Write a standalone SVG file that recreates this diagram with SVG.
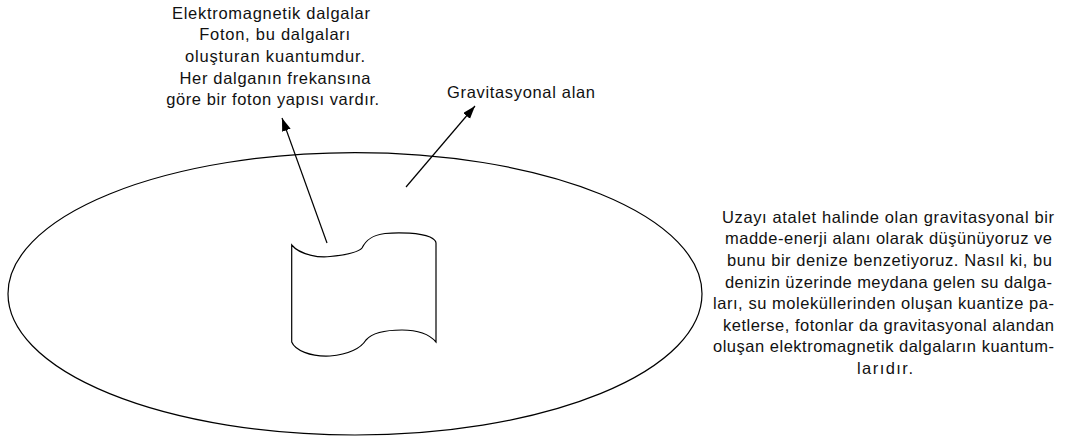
<svg xmlns="http://www.w3.org/2000/svg" width="1068" height="439" viewBox="0 0 1068 439">
<style>
.ln{fill:none;stroke:#000;stroke-width:1.2}
.t{font-family:"Liberation Sans",Arial,sans-serif;font-size:16.5px;fill:#111}
</style>
<defs>
<marker id="ah" markerUnits="userSpaceOnUse" markerWidth="14" markerHeight="10" refX="13" refY="4.5" orient="auto">
<path d="M0,0 L13,4.5 L0,9 z" fill="#000"/>
</marker>
</defs>
<rect width="1068" height="439" fill="#fff"/>
<g id="field">
<ellipse class="ln" cx="355" cy="293.8" rx="347" ry="141.2"/>
</g>
<g id="photon">
<path class="ln" d="M291.7,245 C300,255 320,258 330,256.5 C345,255 358,253 362,248 C366,240 372,235 385,233.5 C400,232 420,233 430,237 C434,239 436,241 436,243 L436,342 C430,335 420,330 402,330 C385,330 372,333 366,340 C361,348 350,354 330,356 C310,357 295,350 291.7,342 Z"/>
</g>
<g id="connectors">
<line class="ln" x1="327" y1="243" x2="282" y2="118" marker-end="url(#ah)"/>
<line class="ln" x1="406" y1="187" x2="475" y2="106" marker-end="url(#ah)"/>
</g>
<g id="label-em">
<text class="t" text-anchor="middle" x="271" y="18.5" textLength="198" lengthAdjust="spacing">Elektromagnetik dalgalar</text>
<text class="t" text-anchor="middle" x="274.7" y="40.2" textLength="151" lengthAdjust="spacing">Foton, bu dalgaları</text>
<text class="t" text-anchor="middle" x="275" y="61.9" textLength="180" lengthAdjust="spacing">oluşturan kuantumdur.</text>
<text class="t" text-anchor="middle" x="275" y="83.6" textLength="191" lengthAdjust="spacing">Her dalganın frekansına</text>
<text class="t" text-anchor="middle" x="272.7" y="105.3" textLength="213" lengthAdjust="spacing">göre bir foton yapısı vardır.</text>
</g>
<g id="label-grav">
<text class="t" x="447" y="98" textLength="148" lengthAdjust="spacing">Gravitasyonal alan</text>
</g>
<g id="label-desc">
<text class="t" x="722" y="222.7" textLength="332" lengthAdjust="spacing">Uzayı atalet halinde olan gravitasyonal bir</text>
<text class="t" x="725" y="244.3" textLength="327" lengthAdjust="spacing">madde-enerji alanı olarak düşünüyoruz ve</text>
<text class="t" x="727" y="265.9" textLength="325" lengthAdjust="spacing">bunu bir denize benzetiyoruz. Nasıl ki, bu</text>
<text class="t" x="725" y="287.5" textLength="327" lengthAdjust="spacing">denizin üzerinde meydana gelen su dalga-</text>
<text class="t" x="713" y="309.1" textLength="341" lengthAdjust="spacing">ları, su moleküllerinden oluşan kuantize pa-</text>
<text class="t" x="723" y="330.7" textLength="331" lengthAdjust="spacing">ketlerse, fotonlar da gravitasyonal alandan</text>
<text class="t" x="713" y="352.3" textLength="341" lengthAdjust="spacing">oluşan elektromagnetik dalgaların kuantum-</text>
<text class="t" x="857" y="374" textLength="56" lengthAdjust="spacing">larıdır.</text>
</g>
</svg>
